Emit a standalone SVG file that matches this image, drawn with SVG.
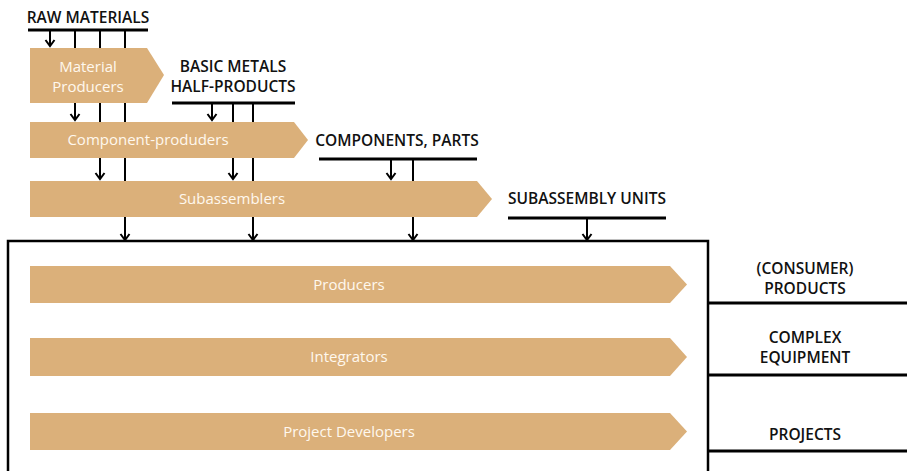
<svg xmlns="http://www.w3.org/2000/svg" width="907" height="471" viewBox="0 0 907 471">
  <defs>
    <marker id="head" viewBox="-8 -6 10 12" markerWidth="10" markerHeight="12" refX="0" refY="0" orient="auto" markerUnits="userSpaceOnUse">
      <path d="M-6,-4.5 L0,0 L-6,4.5" fill="none" stroke="#000" stroke-width="2"/>
    </marker>
  </defs>
  <style>
    .bar { stroke: #000; stroke-width: 3; fill: none; }
    .flow { stroke: #000; stroke-width: 2; fill: none; marker-end: url(#head); }
    .stage { fill: #dbb07a; }
    .stage-label { font-family: "Open Sans", "Liberation Sans", sans-serif; font-size: 15px; font-weight: 500; fill: #fff8ee; text-anchor: middle; }
    .cat { font-family: "Open Sans", "Liberation Sans", sans-serif; font-size: 15.5px; font-weight: 600; fill: #111; text-anchor: middle; }
    .frame { fill: none; stroke: #000; stroke-width: 2.5; }
  </style>
  <rect width="907" height="471" fill="#fff"/>

  <!-- supply flows -->
  <g id="connectors">
    <path class="flow" d="M50,30 V46"/>
    <path class="flow" d="M75,30 V120"/>
    <path class="flow" d="M100,30 V179"/>
    <path class="flow" d="M125,30 V240"/>
    <path class="flow" d="M212,103 V120"/>
    <path class="flow" d="M233,103 V179"/>
    <path class="flow" d="M253,103 V240"/>
    <path class="flow" d="M391,159 V179"/>
    <path class="flow" d="M413,159 V240"/>
    <path class="flow" d="M587,218 V240"/>
    <line class="bar" x1="708" y1="303" x2="907" y2="303"/>
    <line class="bar" x1="708" y1="375" x2="907" y2="375"/>
    <line class="bar" x1="708" y1="451" x2="907" y2="451"/>
  </g>

  <!-- input categories -->
  <g id="raw-materials">
    <line class="bar" x1="28" y1="30" x2="148" y2="30"/>
    <text class="cat" x="88" y="23">RAW MATERIALS</text>
  </g>
  <g id="basic-metals">
    <line class="bar" x1="172" y1="103" x2="295" y2="103"/>
    <text class="cat" x="233" y="72">BASIC METALS</text>
    <text class="cat" x="233" y="92">HALF-PRODUCTS</text>
  </g>
  <g id="components-parts">
    <line class="bar" x1="319" y1="159" x2="477" y2="159"/>
    <text class="cat" x="397" y="146">COMPONENTS, PARTS</text>
  </g>
  <g id="subassembly-units">
    <line class="bar" x1="508" y1="218" x2="666" y2="218"/>
    <text class="cat" x="587" y="204">SUBASSEMBLY UNITS</text>
  </g>

  <!-- supplier stages -->
  <g id="material-producers">
    <polygon class="stage" points="30,48 147,48 164,75 147,103 30,103"/>
    <text class="stage-label" x="88" y="72">Material</text>
    <text class="stage-label" x="88" y="92">Producers</text>
  </g>
  <g id="component-producers">
    <polygon class="stage" points="30,122 294,122 308,140 294,158 30,158"/>
    <text class="stage-label" x="148" y="145">Component-produders</text>
  </g>
  <g id="subassemblers">
    <polygon class="stage" points="30,181 477,181 492,199 477,217 30,217"/>
    <text class="stage-label" x="232" y="204">Subassemblers</text>
  </g>

  <!-- final assembly -->
  <g id="assembly-frame">
    <rect class="frame" x="8" y="241" width="700" height="260"/>
  </g>
  <g id="producers">
    <polygon class="stage" points="30,266 670,266 687,284.5 670,303 30,303"/>
    <text class="stage-label" x="349" y="290">Producers</text>
  </g>
  <g id="integrators">
    <polygon class="stage" points="30,338 670,338 687,357 670,376 30,376"/>
    <text class="stage-label" x="349" y="362">Integrators</text>
  </g>
  <g id="project-developers">
    <polygon class="stage" points="30,413 670,413 687,431.5 670,450 30,450"/>
    <text class="stage-label" x="349" y="437">Project Developers</text>
  </g>

  <!-- outputs -->
  <g id="consumer-products">
    <text class="cat" x="805" y="274">(CONSUMER)</text>
    <text class="cat" x="805" y="294">PRODUCTS</text>
  </g>
  <g id="complex-equipment">
    <text class="cat" x="805" y="343">COMPLEX</text>
    <text class="cat" x="805" y="363">EQUIPMENT</text>
  </g>
  <g id="projects">
    <text class="cat" x="805" y="440">PROJECTS</text>
  </g>
</svg>
